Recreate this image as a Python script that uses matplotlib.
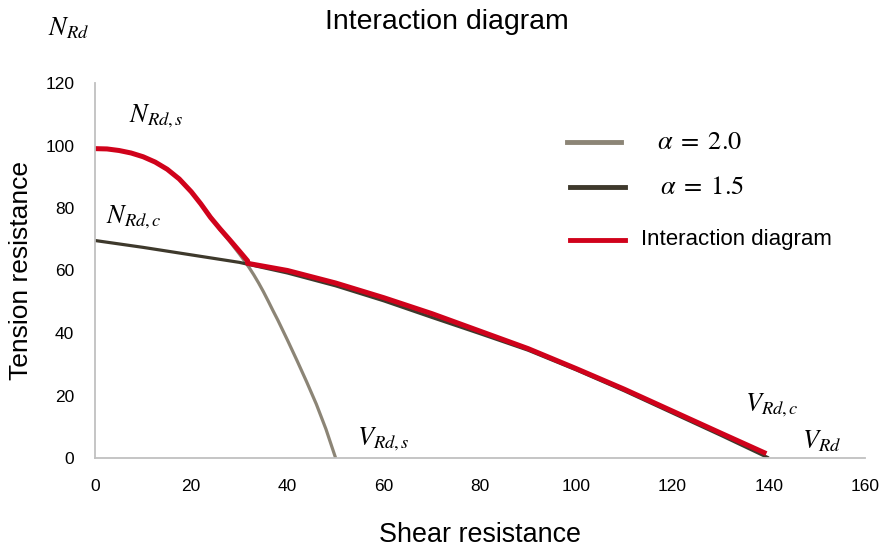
import numpy as np
import matplotlib.pyplot as plt
from matplotlib.lines import Line2D

plt.rcParams['font.family'] = ['Liberation Sans', 'DejaVu Sans']
plt.rcParams['mathtext.fontset'] = 'stix'

## alpha = 2.0 curve (steel)
v_s = [0, 2.5, 5, 7.5, 10, 12.5, 15, 17.5, 20, 22, 24, 26, 28, 30, 31, 32, 33, 34, 35, 36,
       37, 38, 40, 42, 44, 46, 48, 50]
n_s = [99, 98.9, 98.4, 97.6, 96.4, 94.7, 92.4, 89.3, 85.2, 81.3, 77.2, 73, 69.3, 65.3, 63.2,
       61, 58.6, 56, 53.2, 50.2, 47.1, 44.1, 37.7, 31.1, 24.3, 17.2, 9.2, 0]

## alpha = 1.5 curve (concrete)
v_c = [0, 10, 20, 30, 40, 50, 60, 70, 80, 90, 100, 110, 120, 130, 140]
n_c = [69.6, 67.4, 65, 62.6, 59.2, 55.1, 50.3, 45, 39.8, 34.5, 28.2, 21.5, 14.4, 7.3, 0]

## interaction diagram (envelope)
v_i = [0, 2.5, 5, 7.5, 10, 12.5, 15, 17.5, 20, 22, 24, 26, 28, 30, 31.7,
       31.7, 40, 50, 60, 70, 80, 90, 100, 110, 120, 130, 139.5]
n_i = [99, 98.9, 98.4, 97.6, 96.4, 94.7, 92.4, 89.3, 85.2, 81.3, 77, 73.3, 69.8, 66.2, 63.1,
       62.3, 60, 56, 51.3, 46.2, 40.6, 35, 28.6, 22, 15, 8, 1.4]

c_s = '#8c8576'
c_c = '#3e392c'
c_i = '#d0021b'

fig = plt.figure(figsize=(8.81, 5.49), dpi=100)
ax = fig.add_axes([95/881, 1-458/549, 770/881, 375/549])

ax.plot(v_s, n_s, color=c_s, lw=2.3, solid_capstyle='butt', solid_joinstyle='round')
ax.plot(v_c, n_c, color=c_c, lw=2.3, solid_capstyle='butt', solid_joinstyle='round')
ax.plot(v_i, n_i, color=c_i, lw=3.6, solid_capstyle='butt', solid_joinstyle='round')

ax.set_xlim(0, 160)
ax.set_ylim(0, 120)
ax.set_xticks(range(0, 161, 20))
ax.set_yticks(range(0, 121, 20))
ax.tick_params(length=0, labelsize=12.5, pad=15)
for s in ['top', 'right']:
    ax.spines[s].set_visible(False)
for s in ['left', 'bottom']:
    ax.spines[s].set_color('#c0c0c0')
    ax.spines[s].set_linewidth(1.3)

ax.set_xlabel('Shear resistance', fontsize=19.4)
ax.set_ylabel('Tension resistance', fontsize=19)
ax.xaxis.set_label_coords(0.5, -0.172)
ax.yaxis.set_label_coords(-0.08, 0.5)
fig.text(447/881, 1-22/549, 'Interaction diagram', fontsize=20.5, ha='center', va='center')

## curve labels
ax.text(7, 109.5, r'$N_{Rd,s}$', fontsize=19, va='center')
ax.text(2.3, 77, r'$N_{Rd,c}$', fontsize=19, va='center')
ax.text(54.5, 6, r'$V_{Rd,s}$', fontsize=19, va='center')
ax.text(135, 17, r'$V_{Rd,c}$', fontsize=19, va='center')
ax.text(147, 5.5, r'$V_{Rd}$', fontsize=19, va='center')
fig.text(48/881, 1-28/549, r'$N_{Rd}$', fontsize=19, va='center')

## legend drawn by hand to match spacing
leg = [(c_s, 567, 621, 142, r'$\alpha\;=\;2.0$', 657),
       (c_c, 570, 625, 187, r'$\alpha\;=\;1.5$', 660),
       (c_i, 570, 625, 240, 'Interaction diagram', 641)]
for col, x0, x1, y, lab, xt in leg:
    fig.add_artist(Line2D([x0/881, x1/881], [1-y/549, 1-y/549], color=col,
                          lw=3.5, transform=fig.transFigure))
    fs = 19 if lab.startswith('$') else 16
    fig.text(xt/881, 1-y/549, lab, fontsize=fs, va='center')

fig.savefig('out.png', dpi=100)
